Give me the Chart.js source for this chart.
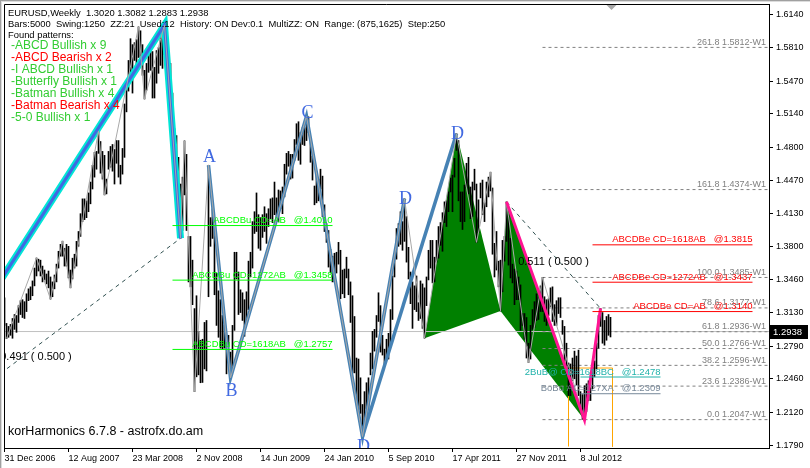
<!DOCTYPE html>
<html><head><meta charset="utf-8">
<script src="https://cdn.jsdelivr.net/npm/chart.js@4/dist/chart.umd.min.js"></script>
<style>html,body{margin:0;padding:0;background:#fff;}canvas{display:block;}</style>
</head><body>
<canvas id="c" width="810" height="468"></canvas>
<script>
// ---------------- data ----------------
const tickWeeks = [0,32,64,96,128,160,192,224,256,288];
const tickLabels = ['31 Dec 2006','12 Aug 2007','23 Mar 2008','2 Nov 2008','14 Jun 2009','24 Jan 2010','5 Sep 2010','17 Apr 2011','27 Nov 2011','8 Jul 2012'];
const priceTicks = [1.1790,1.2120,1.2460,1.2790,1.3130,1.3460,1.3800,1.4130,1.4470,1.4800,1.5140,1.5470,1.5810,1.6140];

// weekly bars, week 0 = 31 Dec 2006
const weeklyHigh = [
1.3280,1.3020,1.2990,1.3010,1.3070,1.3110,1.3100,1.3200,1.3250,1.3260,
1.3240,1.3320,1.3370,1.3390,1.3450,1.3580,1.3682,1.3670,1.3660,1.3600,
1.3560,1.3520,1.3550,1.3490,1.3440,1.3510,1.3620,1.3750,1.3820,1.3852,
1.3780,1.3820,1.3800,1.3560,1.3680,1.3720,1.3850,1.3950,1.4130,1.4280,
1.4280,1.4260,1.4340,1.4450,1.4620,1.4750,1.4760,1.4967,1.4860,1.4760,
1.4720,1.4480,1.4760,1.4810,1.4830,1.4780,1.4870,1.4870,1.4620,1.4790,
1.5240,1.5460,1.5680,1.5900,1.5840,1.5860,1.5890,1.6020,1.5980,1.5840,
1.5580,1.5650,1.5820,1.5770,1.5770,1.5610,1.5780,1.5810,1.5910,1.5980,
1.6040,1.5960,1.5740,1.5650,1.5350,1.4990,1.4920,1.4700,1.4430,1.4500,
1.4867,1.4730,1.3900,1.3900,1.3660,1.3170,1.3300,1.2940,1.2850,1.2860,
1.3030,1.3050,1.4620,1.4090,1.4180,1.4050,1.3530,1.3350,1.3260,1.3100,
1.3000,1.2900,1.2900,1.2730,1.3000,1.3740,1.3740,1.3540,1.3360,1.3330,
1.3260,1.3340,1.3650,1.3740,1.4050,1.4150,1.4340,1.4120,1.4090,1.4120,
1.4200,1.4130,1.4180,1.4280,1.4290,1.4450,1.4290,1.4370,1.4360,1.4400,
1.4630,1.4740,1.4760,1.4730,1.4730,1.4880,1.5040,1.5060,1.4950,1.5000,
1.5000,1.5115,1.5110,1.4880,1.4710,1.4410,1.4520,1.4480,1.4580,1.4510,
1.4220,1.4030,1.3960,1.3770,1.3700,1.3730,1.3740,1.3840,1.3760,1.3560,
1.3570,1.3690,1.3570,1.3440,1.3300,1.3090,1.2670,1.2660,1.2470,1.2200,
1.2330,1.2420,1.2470,1.2720,1.2940,1.2960,1.3100,1.3330,1.3200,1.2900,
1.2760,1.2860,1.2920,1.3160,1.3500,1.3720,1.3980,1.4030,1.4150,1.4050,
1.4282,1.4100,1.3790,1.3540,1.3440,1.3400,1.3500,1.3230,1.3450,1.3420,
1.3380,1.3490,1.3760,1.3860,1.3860,1.3690,1.3860,1.4000,1.4040,1.4140,
1.4250,1.4260,1.4350,1.4490,1.4520,1.4690,1.4940,1.4870,1.4350,1.4350,
1.4420,1.4640,1.4700,1.4400,1.4450,1.4580,1.4430,1.4270,1.4440,1.4470,
1.4240,1.4450,1.4500,1.4550,1.4390,1.3830,1.3950,1.3650,1.3660,1.3860,
1.3900,1.4250,1.4120,1.3880,1.3620,1.3570,1.3550,1.3490,1.3410,1.3120,
1.3120,1.3080,1.2820,1.3000,1.3160,1.3240,1.3320,1.3280,1.3400,1.3486,
1.3290,1.3260,1.3270,1.3380,1.3390,1.3210,1.3250,1.3280,1.3280,1.3050,
1.2990,1.2820,1.2620,1.2610,1.2670,1.2740,1.2690,1.2750,1.2330,1.2300,
1.2390,1.2410,1.2440,1.2370,1.2580,1.2640,1.2820,1.3100,1.3172,1.3130,
1.3050,1.3090,1.3110,1.3082];
const weeklyLow = [
1.3000,1.2866,1.2880,1.2900,1.2870,1.2960,1.2930,1.3030,1.3110,1.3080,
1.3070,1.3140,1.3250,1.3260,1.3300,1.3400,1.3500,1.3550,1.3500,1.3440,
1.3460,1.3420,1.3380,1.3266,1.3290,1.3370,1.3440,1.3580,1.3700,1.3700,
1.3600,1.3600,1.3480,1.3380,1.3470,1.3580,1.3600,1.3800,1.3900,1.4050,
1.4070,1.4090,1.4150,1.4230,1.4380,1.4500,1.4580,1.4740,1.4540,1.4480,
1.4320,1.4330,1.4580,1.4600,1.4560,1.4430,1.4640,1.4500,1.4430,1.4530,
1.4700,1.5160,1.5370,1.5490,1.5350,1.5680,1.5560,1.5710,1.5710,1.5530,
1.5290,1.5380,1.5560,1.5580,1.5300,1.5300,1.5450,1.5550,1.5630,1.5600,
1.5740,1.5680,1.5520,1.5280,1.4860,1.4660,1.4600,1.4330,1.3881,1.3960,
1.4320,1.3960,1.3440,1.3390,1.3210,1.2330,1.2480,1.2500,1.2420,1.2423,
1.2560,1.2540,1.3290,1.3800,1.3880,1.3310,1.3000,1.2880,1.2770,1.2760,
1.2770,1.2510,1.2620,1.2470,1.2560,1.2950,1.3470,1.3110,1.3130,1.3050,
1.2890,1.3050,1.3160,1.3490,1.3580,1.3930,1.3950,1.3780,1.3760,1.3890,
1.3950,1.3830,1.4000,1.4080,1.4040,1.4120,1.4050,1.4050,1.4180,1.4130,
1.4300,1.4530,1.4610,1.4480,1.4490,1.4670,1.4830,1.4670,1.4630,1.4830,
1.4820,1.4870,1.4950,1.4650,1.4470,1.4220,1.4240,1.4260,1.4380,1.4100,
1.3950,1.3840,1.3590,1.3530,1.3440,1.3440,1.3530,1.3620,1.3270,1.3320,
1.3280,1.3480,1.3310,1.3030,1.2520,1.2520,1.2230,1.2150,1.2110,1.1876,
1.1980,1.2160,1.2150,1.2500,1.2560,1.2740,1.2880,1.3040,1.2730,1.2700,
1.2590,1.2650,1.2660,1.2780,1.3060,1.3490,1.3670,1.3800,1.3820,1.3760,
1.3850,1.3640,1.3470,1.3220,1.2970,1.3160,1.3140,1.3050,1.3070,1.2970,
1.2870,1.3200,1.3460,1.3580,1.3430,1.3440,1.3640,1.3680,1.3810,1.3750,
1.4040,1.4000,1.4150,1.4350,1.4150,1.4500,1.4770,1.4260,1.4050,1.3970,
1.4050,1.4390,1.4330,1.4080,1.4100,1.4370,1.3840,1.3940,1.4290,1.4120,
1.4050,1.4200,1.4300,1.4360,1.3720,1.3490,1.3560,1.3390,1.3145,1.3340,
1.3650,1.3850,1.3610,1.3480,1.3430,1.3210,1.3260,1.3260,1.2950,1.3000,
1.2860,1.2670,1.2624,1.2660,1.2960,1.2980,1.3050,1.3060,1.3140,1.3140,
1.3040,1.3000,1.3100,1.3190,1.3040,1.3000,1.3000,1.3120,1.3080,1.2910,
1.2640,1.2500,1.2290,1.2290,1.2440,1.2460,1.2400,1.2290,1.2160,1.2050,
1.2042,1.2130,1.2240,1.2240,1.2360,1.2480,1.2560,1.2770,1.2990,1.2820,
1.2800,1.2850,1.2900,1.2883];

// zigzag swing points
const zzWeeks  = [1,16,23,29,33,47,50,67,70,80,88,90,95,102,113,151,179,200,210,226,236,243,248,251,262,269,290,298];
const zzPrices = [1.2866,1.3682,1.3266,1.3852,1.3380,1.4967,1.4320,1.6020,1.5290,1.6040,1.3881,1.4867,1.2330,1.4620,1.2470,1.5115,1.1876,1.4282,1.2870,1.4940,1.3840,1.4550,1.3145,1.4250,1.2624,1.3486,1.2042,1.3172];

// big X-A-B pattern (X lies left of the visible window)
const bigWeeks  = [-59.5, 80, 88];
const bigPrices = [1.1640, 1.6040, 1.3881];

// A-B-C-D legs
const abcdWeeks  = [102, 113, 151, 179, 200];
const abcdPrices = [1.4620, 1.2470, 1.5115, 1.1876, 1.4282];
const abcdLetters = ['A','B','C','D','D'];
const legWeeks  = [179, 226];
const legPrices = [1.1876, 1.4940];

// butterfly X A B C D and the retrace point
const bflyWeeks  = [210, 226, 248, 251, 290, 298];
const bflyPrices = [1.2870, 1.4940, 1.3145, 1.4250, 1.2042, 1.3172];

// projection levels
const bullNames  = ['ABCDBu CD=AB','ABCDBu CD=1272AB','ABCDBu CD=1618AB'];
const bullPrices = [1.4010, 1.3458, 1.2757];
const bullSpan   = [84, 164];
const bearNames  = ['ABCDBe CD=1618AB','ABCDBe CD=1272AB','ABCDBe CD=AB'];
const bearPrices = [1.3815, 1.3437, 1.3140];
const bearSpan   = [294, 374];
const fibRatios  = ['261.8','161.8','100.0','78.6','61.8','50.0','38.2','23.6','0.0'];
const fibPrices  = [1.5812, 1.4374, 1.3485, 1.3177, 1.2936, 1.2766, 1.2596, 1.2386, 1.2047];
const fibStart   = 269;
const extraNames  = ['2BuB@ CD=1618BC','BoBu AC=127XA'];
const extraPrices = [1.2478, 1.2309];
const extraSpan   = [288, 328];
const boxWeeks = [282, 304];
const boxTop   = 1.2569;
const boxBottom = 1.1775;
const bidPrice = 1.2938;
const ratioLabels = ['0.491 ( 0.500 )', '0.511 ( 0.500 )'];

const foundPatterns = ['-ABCD Bullish x 9','-ABCD Bearish x 2','-I ABCD Bullish x 1','-Butterfly Bullish x 1','-Batman Bullish x 4','-Batman Bearish x 4','-5-0 Bullish x 1'];
const foundBullish  = [true,false,true,true,true,false,true];

// ---------------- chart ----------------
const X_MIN = -0.25, X_MAX = 382.25, Y_MIN = 1.1760, Y_MAX = 1.6251;
const FONT = "'Liberation Sans', Arial, sans-serif";
Chart.defaults.font.family = FONT;
Chart.defaults.color = '#000';

const pts = (ws, ps) => ws.map((w, i) => ({x: w, y: ps[i]}));
const hlines = (prices, w0, w1) => { const d = []; prices.forEach(p => d.push({x: w0, y: p}, {x: w1, y: p}, {x: w1, y: null})); return d; };
const lineDs = (data, color, width, order, extra) => Object.assign({
  type: 'line', data, borderColor: color, borderWidth: width, pointRadius: 0, pointHoverRadius: 0,
  fill: false, tension: 0, order, clip: 0, spanGaps: false }, extra || {});

const bars = weeklyHigh.map((h, i) => ({x: i, y: [weeklyLow[i], h]}));

const datasets = [
  lineDs(pts(bflyWeeks.slice(0,3), bflyPrices.slice(0,3)), 'rgba(0,0,0,0)', 0, 30, {fill: 'shape', backgroundColor: '#008000'}),
  lineDs(pts(bflyWeeks.slice(2,5), bflyPrices.slice(2,5)), 'rgba(0,0,0,0)', 0, 30, {fill: 'shape', backgroundColor: '#008000'}),
  lineDs(hlines(fibPrices, fibStart, X_MAX), '#808080', 1, 25, {borderDash: [3, 3]}),
  lineDs(pts([X_MIN, X_MAX], [bidPrice, bidPrice]), '#c0c0c0', 1, 25),
  // orange time box (open at the bottom)
  lineDs(pts([boxWeeks[0], boxWeeks[0], boxWeeks[1], boxWeeks[1]], [boxBottom, boxTop, boxTop, boxBottom]), '#ffa500', 1, 25),
  {type: 'bar', data: bars, backgroundColor: '#000', borderWidth: 0, barThickness: 1, grouped: false, order: 20},
  lineDs(pts(abcdWeeks, abcdPrices), '#4682b4', 3.5, 12),
  lineDs(pts(legWeeks, legPrices), '#4682b4', 3.5, 12),
  lineDs(pts(bigWeeks, bigPrices), '#00e6d6', 7, 12),
  lineDs(pts(bigWeeks, bigPrices), '#4169e1', 3, 11),
  lineDs(pts([bigWeeks[0], bigWeeks[2]], [bigPrices[0], bigPrices[2]]), '#2f4f4f', 1, 11, {borderDash: [4, 4]}),
  lineDs(pts([bflyWeeks[3], bflyWeeks[5]], [bflyPrices[3], bflyPrices[5]]), '#2f4f4f', 1, 11, {borderDash: [4, 4]}),
  lineDs(pts(zzWeeks, zzPrices), '#a9a9a9', 1, 10),
  lineDs(pts(bflyWeeks.slice(3), bflyPrices.slice(3)), '#ff1493', 3, 8),
  lineDs(hlines(bullPrices, bullSpan[0], bullSpan[1]), '#00ff00', 1, 5),
  lineDs(hlines(bearPrices, bearSpan[0], bearSpan[1]), '#ff0000', 1, 5),
  lineDs(pts(extraSpan, [extraPrices[0], extraPrices[0]]), '#20b2aa', 1, 5),
  lineDs(pts(extraSpan, [extraPrices[1], extraPrices[1]]), '#778899', 1, 5)
];

function txt(ctx, s, x, y, color, font, align, base) {
  ctx.font = font; ctx.fillStyle = color; ctx.textAlign = align || 'left'; ctx.textBaseline = base || 'middle';
  ctx.fillText(s, x, y);
}

const overlay = {
  id: 'overlay',
  afterDatasetsDraw(chart) {
    const {ctx, chartArea: a, scales: {x, y}} = chart;
    ctx.save();
    ctx.beginPath(); ctx.rect(a.left, a.top, a.right - a.left, a.bottom - a.top); ctx.clip();
    const lvl = '9.5px ' + FONT;
    bullNames.forEach((n, i) => txt(ctx, n + '   @' + bullPrices[i].toFixed(4), x.getPixelForValue(bullSpan[1]), y.getPixelForValue(bullPrices[i]) - 5, '#00ff00', lvl, 'right'));
    bearNames.forEach((n, i) => txt(ctx, n + '   @' + bearPrices[i].toFixed(4), x.getPixelForValue(bearSpan[1]), y.getPixelForValue(bearPrices[i]) - 5, '#ff0000', lvl, 'right'));
    fibRatios.forEach((r, i) => txt(ctx, r + ' ' + fibPrices[i].toFixed(4) + '-W1', a.right - 3, y.getPixelForValue(fibPrices[i]) - 5, '#808080', '9px ' + FONT, 'right'));
    const extraColors = ['#20b2aa', '#778899'];
    extraNames.forEach((n, i) => txt(ctx, n + '   @' + extraPrices[i].toFixed(4), x.getPixelForValue(extraSpan[1]), y.getPixelForValue(extraPrices[i]) - 5, extraColors[i], lvl, 'right'));
    // ratio labels at midpoints of the dashed legs
    const mid1x = (x.getPixelForValue(bigWeeks[0]) + x.getPixelForValue(bigWeeks[2])) / 2;
    const mid1y = (y.getPixelForValue(bigPrices[0]) + y.getPixelForValue(bigPrices[2])) / 2;
    txt(ctx, ratioLabels[0], mid1x + 3, mid1y + 8, '#000', '11px ' + FONT, 'center');
    const mid2x = (x.getPixelForValue(bflyWeeks[3]) + x.getPixelForValue(bflyWeeks[5])) / 2;
    const mid2y = (y.getPixelForValue(bflyPrices[3]) + y.getPixelForValue(bflyPrices[5])) / 2;
    txt(ctx, ratioLabels[1], mid2x, mid2y + 7, '#000', '11px ' + FONT, 'center');
    // pattern letters
    const dys = [-8, 13, -3, 11, 1];
    abcdLetters.forEach((l, i) => txt(ctx, l, x.getPixelForValue(abcdWeeks[i]) + 1, y.getPixelForValue(abcdPrices[i]) + dys[i], '#4169e1', '18px "Liberation Serif", serif', 'center'));
    txt(ctx, 'D', x.getPixelForValue(legWeeks[1]) + 1, y.getPixelForValue(legPrices[1]) + 1, '#4169e1', '18px "Liberation Serif", serif', 'center');
    ctx.restore();
  },
  afterDraw(chart) {
    const {ctx, chartArea: a, scales: {x, y}} = chart;
    ctx.save();
    // plot frame (left & top)
    ctx.strokeStyle = '#000'; ctx.lineWidth = 1;
    ctx.beginPath(); ctx.moveTo(a.left + 0.5, a.bottom); ctx.lineTo(a.left + 0.5, a.top + 0.5); ctx.lineTo(a.right, a.top + 0.5); ctx.stroke();
    // window edge
    ctx.fillStyle = '#a0a0a0'; ctx.fillRect(0, 0, 810, 1); ctx.fillRect(0, 0, 1, 468);
    ctx.fillStyle = '#dcdcdc'; ctx.fillRect(1, 1, 809, 1); ctx.fillRect(1, 1, 1, 467);
    // shift marker
    const sx = x.getPixelForValue(weeklyHigh.length - 1) + 1;
    ctx.fillStyle = '#a8a8a8'; ctx.beginPath(); ctx.moveTo(sx - 5, a.top + 1); ctx.lineTo(sx + 5, a.top + 1); ctx.lineTo(sx, a.top + 6); ctx.closePath(); ctx.fill();
    // header texts
    const hf = '9.4px ' + FONT;
    txt(ctx, 'EURUSD,Weekly  1.3020 1.3082 1.2883 1.2938', 8, 13, '#000', hf);
    txt(ctx, 'Bars:5000  Swing:1250  ZZ:21  Used:12  History: ON Dev:0.1  MultiZZ: ON  Range: (875,1625)  Step:250', 8, 24, '#000', hf);
    txt(ctx, 'Found patterns:', 8, 35, '#000', hf);
    foundPatterns.forEach((s, i) => txt(ctx, s, 11, 46 + i * 12, foundBullish[i] ? '#32cd32' : '#ff0000', '12px ' + FONT));
    txt(ctx, 'korHarmonics 6.7.8 - astrofx.do.am', 8, 432, '#000', '12.5px ' + FONT);
    // bid price box
    const by = Math.round(y.getPixelForValue(bidPrice));
    ctx.fillStyle = '#000'; ctx.fillRect(a.right + 1, by - 7, 38, 14);
    txt(ctx, bidPrice.toFixed(4), a.right + 4, by, '#fff', '9.5px ' + FONT);
    ctx.restore();
  }
};

new Chart(document.getElementById('c'), {
  type: 'bar',
  data: {datasets},
  options: {
    responsive: false, animation: false, devicePixelRatio: 1, events: [],
    layout: {padding: {left: 4, top: 4, right: 0, bottom: 0}},
    plugins: {legend: {display: false}, tooltip: {enabled: false}},
    scales: {
      x: {
        type: 'linear', position: 'bottom', min: X_MIN, max: X_MAX, offset: false,
        afterBuildTicks: s => { s.ticks = tickWeeks.map(v => ({value: v})); },
        afterFit: s => { s.height = 20; s.paddingLeft = 0; s.paddingRight = 0; },
        ticks: {autoSkip: false, maxRotation: 0, align: 'start', padding: 1, color: '#000', font: {size: 9},
                callback: (v, i) => tickLabels[i]},
        grid: {drawOnChartArea: false, offset: false, tickLength: 4, color: '#000'},
        border: {color: '#000', width: 1}
      },
      y: {
        type: 'linear', position: 'right', min: Y_MIN, max: Y_MAX,
        afterBuildTicks: s => { s.ticks = priceTicks.map(v => ({value: v})); },
        afterFit: s => { s.width = 41; s.paddingTop = 0; s.paddingBottom = 0; },
        ticks: {autoSkip: false, padding: 3, color: '#000', font: {size: 9}, callback: v => v.toFixed(4)},
        grid: {drawOnChartArea: false, tickLength: 4, color: '#000'},
        border: {color: '#000', width: 1}
      }
    }
  },
  plugins: [overlay]
});
</script>
</body></html>
